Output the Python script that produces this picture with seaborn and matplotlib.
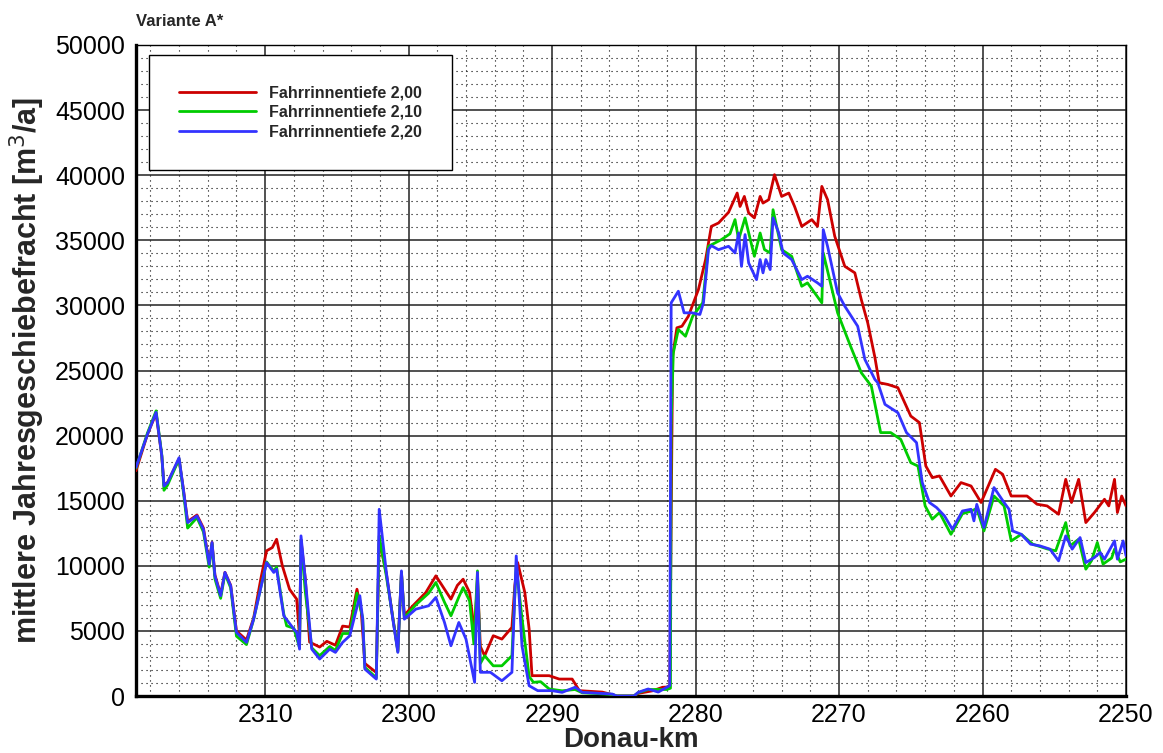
import numpy as np
import pandas as pd
import matplotlib
matplotlib.use("Agg")
import matplotlib.pyplot as plt
from matplotlib.ticker import MultipleLocator
import seaborn as sns

# ---------------- data ----------------
series_labels = ["Fahrrinnentiefe 2,00", "Fahrrinnentiefe 2,10", "Fahrrinnentiefe 2,20"]
series_colors = ["#CC0000", "#00CC00", "#3333FF"]

km_200 = [2319.0, 2318.2, 2317.6, 2317.2, 2317.05, 2316.8, 2316.0, 2315.7, 2315.4, 2314.75,
          2314.3, 2313.9, 2313.7, 2313.5, 2313.1, 2312.8, 2312.4, 2312.0, 2311.3, 2310.8,
          2310.3, 2309.9, 2309.5, 2309.2, 2308.8, 2308.3, 2307.8, 2307.6, 2307.5, 2307.2,
          2306.9, 2306.2, 2305.7, 2305.1, 2304.6, 2304.1, 2303.6, 2303.3, 2303.05, 2302.25,
          2302.05, 2301.55, 2301.1, 2300.75, 2300.5, 2300.3, 2299.7, 2298.8, 2298.1, 2297.5,
          2297.05, 2296.6, 2296.2, 2295.75, 2295.4, 2295.2, 2295.0, 2294.7, 2294.1, 2293.5,
          2292.8, 2292.6, 2292.4, 2291.9, 2291.6, 2291.4, 2290.2, 2289.5, 2288.6, 2288.1,
          2286.5, 2285.8, 2285.5, 2284.3, 2284.0, 2283.0, 2282.3, 2281.8, 2281.6, 2281.3,
          2280.95, 2280.5, 2279.8, 2279.3, 2278.9, 2278.4, 2277.7, 2277.1, 2276.9, 2276.6,
          2276.3, 2275.9, 2275.5, 2275.3, 2274.9, 2274.5, 2274.0, 2273.5, 2273.1, 2272.6,
          2271.9, 2271.5, 2271.2, 2270.8, 2270.3, 2269.6, 2268.9, 2268.45, 2268.0, 2267.5,
          2267.2, 2266.6, 2265.9, 2265.0, 2264.4, 2263.95, 2263.5, 2263.0, 2262.2, 2261.5,
          2260.8, 2260.1, 2259.4, 2259.1, 2258.6, 2258.0, 2257.6, 2256.9, 2256.2, 2255.5,
          2254.7, 2254.2, 2253.8, 2253.3, 2252.8, 2252.2, 2251.5, 2251.2, 2250.8, 2250.6,
          2250.3, 2250.0]
val_200 = [17300, 20100, 21700, 18400, 16200, 16400, 18200, 15900, 13400, 13900,
           12900, 10200, 11800, 9300, 7800, 9500, 8500, 5000, 4300, 6000,
           9000, 11150, 11400, 12040, 10000, 8200, 7440, 4500, 12000, 9000,
           4140, 3760, 4200, 3900, 5370, 5300, 8200, 6500, 2500, 1800,
           12000, 9400, 6000, 3500, 9500, 6200, 6930, 7950, 9230, 8200,
           7440, 8500, 8970, 7950, 4900, 9000, 3800, 3090, 4630, 4370,
           5270, 8460, 10250, 7950, 5140, 1560, 1560, 1300, 1300, 410,
           300, 100, 0, 0, 200, 400, 670, 700, 26100, 28280,
           28400, 29170, 31220, 33520, 36070, 36330, 37150, 38630, 37600, 38370,
           37100, 36720, 38370, 37860, 38120, 40040, 38370, 38630, 37600, 36070,
           36590, 36070, 39140, 38120, 35310, 33000, 32500, 30450, 28660, 26000,
           24060, 23930, 23680, 21500, 21000, 17660, 16770, 16900, 15360, 16390,
           16130, 14860, 16640, 17410, 17030, 15360, 15360, 15360, 14730, 14600,
           13960, 16640, 14860, 16640, 13320, 14090, 15110, 14600, 16640, 14090,
           15360, 14600]

km_210 = [2319.0, 2318.2, 2317.6, 2317.2, 2317.05, 2316.8, 2316.0, 2315.7, 2315.4, 2314.75,
          2314.3, 2313.9, 2313.7, 2313.5, 2313.1, 2312.8, 2312.4, 2312.0, 2311.3, 2310.8,
          2309.9, 2309.4, 2309.2, 2308.7, 2308.5, 2308.0, 2307.6, 2307.5, 2307.2, 2306.75,
          2306.2, 2305.5, 2305.1, 2304.6, 2304.1, 2303.6, 2303.2, 2303.05, 2302.25, 2302.05,
          2301.55, 2301.1, 2300.75, 2300.5, 2300.3, 2299.5, 2298.6, 2298.1, 2297.5, 2297.05,
          2296.5, 2296.2, 2295.75, 2295.45, 2295.2, 2295.0, 2294.7, 2294.1, 2293.5, 2292.8,
          2292.5, 2292.1, 2291.6, 2291.3, 2290.8, 2290.2, 2289.3, 2288.4, 2287.9, 2285.8,
          2285.5, 2284.3, 2284.0, 2283.3, 2282.0, 2281.75, 2281.7, 2281.55, 2281.2, 2280.7,
          2280.2, 2279.5, 2279.1, 2278.2, 2277.6, 2277.25, 2277.0, 2276.55, 2275.9, 2275.5,
          2275.2, 2274.8, 2274.6, 2274.0, 2273.3, 2272.6, 2272.2, 2271.2, 2271.1, 2270.1,
          2269.2, 2268.45, 2267.75, 2267.1, 2266.4, 2265.7, 2265.0, 2264.5, 2264.0, 2263.5,
          2263.0, 2262.2, 2261.4, 2260.8, 2260.4, 2259.9, 2259.2, 2258.5, 2258.0, 2257.3,
          2256.5, 2255.5, 2254.9, 2254.2, 2253.9, 2253.3, 2252.8, 2252.4, 2252.0, 2251.6,
          2251.0, 2250.8, 2250.4, 2250.0]
val_210 = [17500, 20200, 21900, 18500, 15800, 16200, 18200, 15700, 12900, 13700,
           12600, 9900, 11700, 9000, 7500, 9400, 8300, 4600, 3950, 5900,
           10300, 9600, 9900, 6300, 5390, 5200, 3700, 12000, 8000, 3700,
           3100, 3800, 3500, 4800, 4800, 7900, 6000, 2200, 1400, 12300,
           9200, 6000, 3400, 9500, 6000, 7000, 7900, 8720, 7200, 6160,
           7600, 8330, 7300, 4000, 9610, 2500, 3090, 2320, 2320, 3090,
           10000, 6000, 1500, 1050, 1100, 540, 400, 500, 250, 120,
           0, 0, 250, 500, 500, 600, 21000, 26360, 28150, 27630,
           29170, 30200, 34540, 35050, 35500, 36590, 35050, 36720, 33770, 35560,
           34290, 34030, 37350, 34280, 33770, 31470, 31730, 30200, 34030, 29430,
           26870, 24830, 23800, 20230, 20230, 19710, 17920, 17660, 14600, 13580,
           14090, 12420, 14000, 14200, 14400, 12680, 15360, 14600, 11910, 12420,
           11660, 11300, 11150, 13320, 11530, 12040, 9740, 10400, 11790, 10130,
           10600, 11280, 10300, 10510]

km_220 = [2319.0, 2318.2, 2317.6, 2317.2, 2317.05, 2316.8, 2316.0, 2315.7, 2315.4, 2314.75,
          2314.3, 2313.9, 2313.7, 2313.5, 2313.1, 2312.8, 2312.4, 2312.0, 2311.3, 2310.8,
          2309.9, 2309.4, 2309.2, 2308.7, 2308.0, 2307.8, 2307.6, 2307.5, 2307.2, 2306.75,
          2306.2, 2305.5, 2305.1, 2304.6, 2304.1, 2303.4, 2303.2, 2303.05, 2302.25, 2302.05,
          2301.55, 2301.1, 2300.75, 2300.5, 2300.3, 2299.5, 2298.6, 2298.1, 2297.5, 2297.05,
          2296.5, 2296.0, 2295.4, 2295.2, 2295.0, 2294.3, 2293.5, 2292.8, 2292.5, 2292.3,
          2292.1, 2291.6, 2291.0, 2290.0, 2289.3, 2288.4, 2287.9, 2285.8, 2285.5, 2284.3,
          2284.0, 2283.3, 2282.6, 2282.0, 2281.8, 2281.7, 2281.2, 2280.8, 2280.25, 2279.7,
          2279.45, 2279.1, 2278.9, 2278.4, 2277.7, 2277.25, 2277.0, 2276.8, 2276.55, 2276.3,
          2275.75, 2275.5, 2275.3, 2275.1, 2274.8, 2274.6, 2274.2, 2273.9, 2273.3, 2272.6,
          2272.2, 2271.5, 2271.2, 2271.1, 2270.8, 2270.1, 2269.6, 2268.7, 2268.2, 2267.5,
          2267.3, 2266.8, 2265.9, 2265.3, 2264.6, 2264.2, 2263.7, 2263.2, 2262.65, 2262.1,
          2261.4, 2260.8, 2260.6, 2260.4, 2259.9, 2259.2, 2258.5, 2258.15, 2257.9, 2257.3,
          2256.65, 2256.0, 2255.3, 2254.7, 2254.2, 2253.75, 2253.2, 2252.8, 2252.2, 2251.8,
          2251.5, 2250.8, 2250.6, 2250.2, 2250.0]
val_220 = [17560, 20100, 21780, 18430, 16130, 16390, 18300, 15880, 13320, 13830,
           12800, 10120, 11790, 9230, 7700, 9490, 8460, 4890, 4120, 5900,
           10250, 9490, 9740, 6160, 5140, 4890, 3600, 12300, 8970, 3600,
           2840, 3600, 3350, 4120, 4630, 7700, 5900, 2070, 1300, 14340,
           9490, 5900, 3350, 9610, 5900, 6670, 6930, 7570, 5650, 3860,
           5650, 4370, 1050, 9490, 1820, 1820, 1170, 1820, 10760, 7700,
           3860, 790, 410, 410, 280, 670, 280, 150, 0, 0,
           280, 540, 300, 670, 800, 30200, 31090, 29430, 29430, 29300,
           30200, 34280, 34590, 34280, 34540, 34030, 35560, 33000, 35440, 33260,
           31980, 33520, 32500, 33520, 32750, 36720, 35560, 34030, 33520, 31980,
           32240, 31730, 31470, 35820, 34540, 30960, 29940, 28400, 25850, 24310,
           24060, 22400, 21760, 20230, 19460, 16390, 14860, 14470, 13830, 12810,
           14210, 14340, 13450, 14720, 12940, 16010, 14860, 14340, 12680, 12420,
           11660, 11530, 11280, 10380, 12300, 11280, 12170, 10250, 10640, 11020,
           10510, 11910, 10510, 11910, 10770]

x_ticks = [2310, 2300, 2290, 2280, 2270, 2260, 2250]
y_ticks = [0, 5000, 10000, 15000, 20000, 25000, 30000, 35000, 40000, 45000, 50000]

# ---------------- styling ----------------
sns.set_style("white")
plt.rcParams["font.family"] = ["Liberation Sans", "DejaVu Sans"]

fig = plt.figure(figsize=(11.63, 7.53), dpi=100)
ax = fig.add_axes([136 / 1163, 1 - 696 / 753, (1126 - 136) / 1163, (696 - 45) / 753])

frames = [
    pd.DataFrame({"km": km_200, "v": val_200}),
    pd.DataFrame({"km": km_210, "v": val_210}),
    pd.DataFrame({"km": km_220, "v": val_220}),
]
for df, lab, col in zip(frames, series_labels, series_colors):
    sns.lineplot(data=df, x="km", y="v", ax=ax, color=col, linewidth=2.0,
                 label=lab, sort=False, estimator=None, zorder=3)

ax.set_xlim(2319.0, 2250)
ax.set_ylim(0, 50000)
ax.set_xticks(x_ticks)
ax.set_yticks(y_ticks)
ax.set_xticklabels([str(t) for t in x_ticks])
ax.set_yticklabels([str(t) for t in y_ticks])
ax.xaxis.set_minor_locator(MultipleLocator(2))
ax.yaxis.set_minor_locator(MultipleLocator(1000))

ax.tick_params(axis="both", which="major", direction="in", labelsize=18,
               length=12, width=2.2, color="black", labelcolor="black")
ax.tick_params(axis="x", which="major", pad=5, top=False)
ax.tick_params(axis="y", which="major", pad=8, right=False)
ax.tick_params(axis="y", which="minor", direction="in", length=8, width=1.2, right=False)
ax.tick_params(axis="x", which="minor", direction="in", length=6, width=1.2, top=False)

ax.grid(which="major", color="#222222", linewidth=1.1, linestyle="-", zorder=1)
ax.grid(which="minor", color="black", linewidth=0.8, linestyle=(0, (1, 3.5)), zorder=1)
ax.set_axisbelow(True)

for side in ["left", "bottom"]:
    ax.spines[side].set_linewidth(2.4)
    ax.spines[side].set_color("black")
for side in ["top", "right"]:
    ax.spines[side].set_linewidth(1.0)
    ax.spines[side].set_color("black")

ax.set_xlabel("Donau-km", fontsize=20, fontweight="bold", labelpad=0)
ax.set_ylabel("mittlere Jahresgeschiebefracht [m$^3$/a]", fontsize=22, fontweight="bold", labelpad=6)

leg = ax.legend(loc="upper left", bbox_to_anchor=(0.013, 0.985), borderaxespad=0,
                frameon=True, fancybox=False, framealpha=1, edgecolor="black",
                prop={"size": 11.5, "weight": "bold"}, handlelength=4.8,
                handletextpad=0.8, labelspacing=0.3, borderpad=1.9)
leg.get_frame().set_linewidth(1.0)
for line in leg.get_lines():
    line.set_linewidth(2.0)

fig.text(136 / 1163, 1 - 22 / 753, "Variante A*", fontsize=12, fontweight="bold",
         ha="left", va="center")

fig.savefig("out.png", dpi=100)
